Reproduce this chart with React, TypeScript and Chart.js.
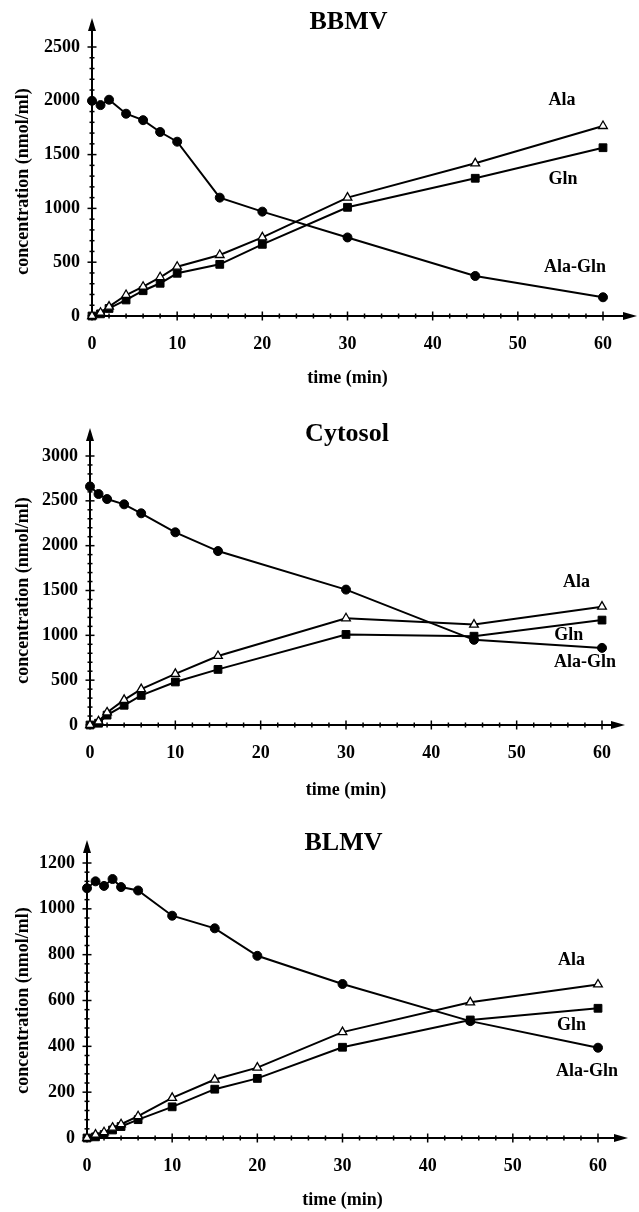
import React, { useEffect, useRef } from "react";
import { Chart, registerables } from "chart.js";

Chart.register(...registerables);

// ---------- Data ----------
const bbmvTime = [0, 1, 2, 4, 6, 8, 10, 15, 20, 30, 45, 60];
const bbmvAlaGln = [2000, 1960, 2010, 1880, 1820, 1710, 1620, 1100, 970, 730, 372, 174];
const bbmvAla = [0, 30, 87, 195, 272, 360, 458, 567, 731, 1100, 1419, 1766];
const bbmvGln = [0, 20, 70, 149, 235, 304, 397, 480, 666, 1010, 1280, 1564];

const cytoTime = [0, 1, 2, 4, 6, 10, 15, 30, 45, 60];
const cytoAlaGln = [2660, 2576, 2520, 2461, 2361, 2149, 1940, 1510, 950, 860];
const cytoAla = [0, 40, 140, 280, 400, 570, 770, 1190, 1120, 1320];
const cytoGln = [0, 20, 110, 220, 330, 480, 620, 1010, 990, 1170];

const blmvTime = [0, 1, 2, 3, 4, 6, 10, 15, 20, 30, 45, 60];
const blmvAlaGln = [1090, 1120, 1100, 1130, 1095, 1080, 970, 915, 795, 672, 510, 394];
const blmvAla = [0, 15, 25, 45, 60, 95, 175, 255, 307, 462, 592, 670];
const blmvGln = [0, 5, 15, 35, 50, 80, 136, 213, 260, 396, 515, 566];

const seriesNames = ["Ala-Gln", "Ala", "Gln"];
const xTitle = "time (min)";
const yTitle = "concentration (nmol/ml)";

// label anchors in data coordinates [x, y]
const bbmvLabelPos = [[56.7, 455], [55.2, 2000], [55.3, 1270]];
const cytoLabelPos = [[58, 703], [57, 1595], [56.1, 1004]];
const blmvLabelPos = [[58.7, 292], [56.9, 777], [56.9, 493]];

const SERIF = "'Liberation Serif', 'Times New Roman', Times, serif";

type PanelCfg = {
  title: string;
  time: number[];
  alaGln: number[];
  ala: number[];
  gln: number[];
  labelPos: number[][];
  yMax: number;
  yStep: number;
  yMinor: number;
  top: number;
  h: number;
  left: number;
  rightPad: number;
  topPad: number;
  axisY: number;
  titleY: number;
  xTitleY: number;
  yExt: number;
  xExt: number;
};

const panels: PanelCfg[] = [
  {
    title: "BBMV", time: bbmvTime, alaGln: bbmvAlaGln, ala: bbmvAla, gln: bbmvGln,
    labelPos: bbmvLabelPos, yMax: 2500, yStep: 500, yMinor: 100,
    top: 0, h: 395, left: 92, rightPad: 36, topPad: 47, axisY: 316,
    titleY: 22, xTitleY: 378, yExt: 29, xExt: 34,
  },
  {
    title: "Cytosol", time: cytoTime, alaGln: cytoAlaGln, ala: cytoAla, gln: cytoGln,
    labelPos: cytoLabelPos, yMax: 3000, yStep: 500, yMinor: 100,
    top: 395, h: 410, left: 90, rightPad: 37, topPad: 61, axisY: 330,
    titleY: 39, xTitleY: 395, yExt: 28, xExt: 23,
  },
  {
    title: "BLMV", time: blmvTime, alaGln: blmvAlaGln, ala: blmvAla, gln: blmvGln,
    labelPos: blmvLabelPos, yMax: 1200, yStep: 200, yMinor: 40,
    top: 805, h: 407, left: 87, rightPad: 41, topPad: 58, axisY: 333,
    titleY: 38, xTitleY: 395, yExt: 23, xExt: 30,
  },
];

const decor = {
  id: "decor",
  beforeDatasetsDraw(chart: any, _args: any, opts: any) {
    const { ctx, chartArea: a, scales } = chart;
    const x = scales.x;
    const y = scales.y;
    ctx.save();
    ctx.strokeStyle = "#000";
    ctx.fillStyle = "#000";
    ctx.lineWidth = 2;
    // y axis with arrow
    const yTip = a.top - opts.yExt;
    ctx.beginPath();
    ctx.moveTo(a.left, a.bottom + 1);
    ctx.lineTo(a.left, yTip + 8);
    ctx.stroke();
    ctx.beginPath();
    ctx.moveTo(a.left, yTip);
    ctx.lineTo(a.left - 4, yTip + 13);
    ctx.lineTo(a.left + 4, yTip + 13);
    ctx.closePath();
    ctx.fill();
    // x axis with arrow
    const xTip = a.right + opts.xExt;
    ctx.beginPath();
    ctx.moveTo(a.left - 1, a.bottom);
    ctx.lineTo(xTip - 8, a.bottom);
    ctx.stroke();
    ctx.beginPath();
    ctx.moveTo(xTip, a.bottom);
    ctx.lineTo(xTip - 14, a.bottom - 4);
    ctx.lineTo(xTip - 14, a.bottom + 4);
    ctx.closePath();
    ctx.fill();
    // ticks
    ctx.lineWidth = 1.5;
    for (let v = 0; v <= 60 + 1e-6; v += 2) {
      const px = x.getPixelForValue(v);
      const major = Math.abs(v % 10) < 1e-6;
      const len = major ? 4.5 : 2.5;
      ctx.beginPath();
      ctx.moveTo(px, a.bottom - len);
      ctx.lineTo(px, a.bottom + len);
      ctx.stroke();
    }
    for (let v = 0; v <= opts.yMax + 1e-6; v += opts.yMinor) {
      const py = y.getPixelForValue(v);
      const major = Math.abs(v % opts.yStep) < 1e-6;
      const len = major ? 4.5 : 2.5;
      ctx.beginPath();
      ctx.moveTo(a.left - len, py);
      ctx.lineTo(a.left + len, py);
      ctx.stroke();
    }
    // titles
    ctx.textAlign = "center";
    ctx.textBaseline = "middle";
    ctx.font = `bold 26px ${SERIF}`;
    ctx.fillText(opts.title, (a.left + a.right) / 2 + 1, opts.titleY);
    ctx.font = `bold 18px ${SERIF}`;
    ctx.fillText(opts.xTitle, (a.left + a.right) / 2, opts.xTitleY);
    ctx.save();
    ctx.translate(23, (a.top + a.bottom) / 2);
    ctx.rotate(-Math.PI / 2);
    ctx.fillText(opts.yTitle, 0, 0);
    ctx.restore();
    // series labels
    opts.labels.forEach((l: any) => {
      ctx.fillText(l.text, x.getPixelForValue(l.x), y.getPixelForValue(l.y));
    });
    ctx.restore();
  },
};

function Panel({ cfg }: { cfg: PanelCfg }) {
  const ref = useRef<HTMLCanvasElement>(null);
  useEffect(() => {
    const toPts = (ys: number[]) => cfg.time.map((t, i) => ({ x: t, y: ys[i] }));
    const base = {
      borderColor: "#000",
      borderWidth: 2,
      tension: 0,
      clip: false as any,
      pointBorderColor: "#000",
    };
    const chart = new Chart(ref.current as HTMLCanvasElement, {
      type: "line",
      data: {
        datasets: [
          {
            ...base,
            label: seriesNames[0],
            data: toPts(cfg.alaGln),
            pointStyle: "circle",
            pointRadius: 4.5,
            pointBackgroundColor: "#000",
            pointBorderWidth: 1,
          },
          {
            ...base,
            label: seriesNames[1],
            data: toPts(cfg.ala),
            pointStyle: "triangle",
            pointRadius: 5,
            pointBackgroundColor: "#fff",
            pointBorderWidth: 1.3,
          },
          {
            ...base,
            label: seriesNames[2],
            data: toPts(cfg.gln),
            pointStyle: "rect",
            pointRadius: 5.5,
            pointBackgroundColor: "#000",
            pointBorderWidth: 1,
          },
        ],
      },
      options: {
        responsive: false,
        animation: false,
        devicePixelRatio: 1,
        layout: { padding: { top: cfg.topPad, right: cfg.rightPad, left: 0, bottom: 0 } },
        plugins: {
          legend: { display: false },
          tooltip: { enabled: false },
          title: { display: false },
          decor: {
            title: cfg.title,
            xTitle,
            yTitle,
            yMax: cfg.yMax,
            yStep: cfg.yStep,
            yMinor: cfg.yMinor,
            titleY: cfg.titleY,
            xTitleY: cfg.xTitleY,
            yExt: cfg.yExt,
            xExt: cfg.xExt,
            labels: seriesNames.map((n, i) => ({ text: n, x: cfg.labelPos[i][0], y: cfg.labelPos[i][1] })),
          },
        } as any,
        scales: {
          x: {
            type: "linear",
            min: 0,
            max: 60,
            grid: { display: false, drawTicks: false },
            border: { display: false },
            ticks: {
              stepSize: 10,
              padding: 18,
              color: "#000",
              maxRotation: 0,
              font: { family: SERIF, weight: "bold", size: 18 },
              callback: (v: any) => String(v),
            },
            afterFit: (s: any) => { s.height = cfg.h - cfg.axisY; },
          },
          y: {
            type: "linear",
            min: 0,
            max: cfg.yMax,
            grid: { display: false, drawTicks: false },
            border: { display: false },
            ticks: {
              stepSize: cfg.yStep,
              padding: 12,
              color: "#000",
              font: { family: SERIF, weight: "bold", size: 18 },
              callback: (v: any) => String(v),
            },
            afterFit: (s: any) => { s.width = cfg.left; },
          },
        },
      },
      plugins: [decor],
    });
    return () => chart.destroy();
  }, []);
  return (
    <canvas
      ref={ref}
      width={639}
      height={cfg.h}
      style={{ position: "absolute", left: 0, top: cfg.top, width: 639, height: cfg.h, display: "block" }}
    />
  );
}

export default function App() {
  return (
    <div style={{ position: "absolute", left: 0, top: 0, width: 639, height: 1212, background: "#fff" }}>
      {panels.map((p) => (
        <Panel key={p.title} cfg={p} />
      ))}
    </div>
  );
}
